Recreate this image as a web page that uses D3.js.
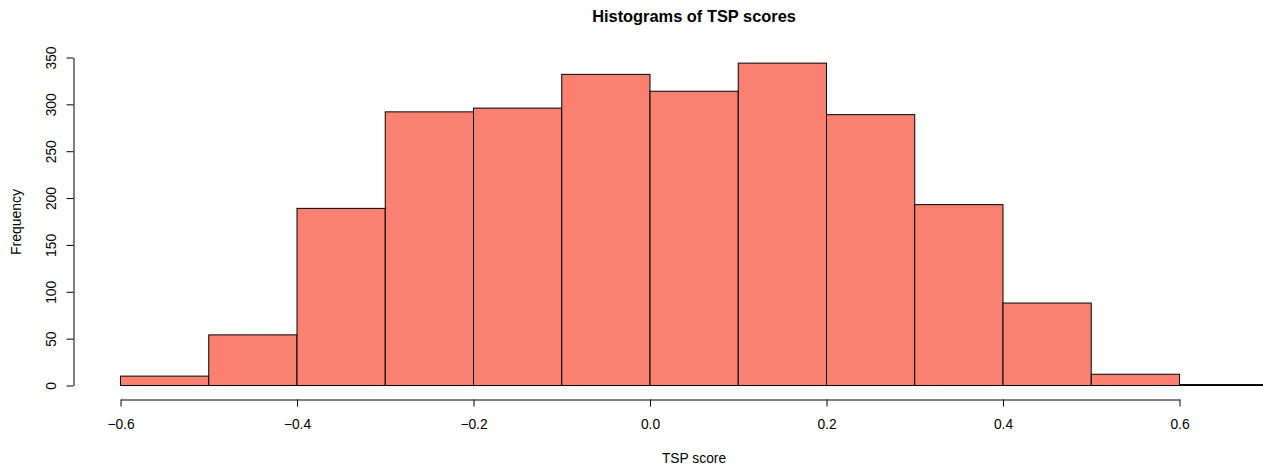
<!DOCTYPE html>
<html><head><meta charset="utf-8">
<script src="https://cdn.jsdelivr.net/npm/d3@7"></script>
<style>body{margin:0;background:#fff}svg{display:block;font-family:"Liberation Sans",Arial,sans-serif}</style>
</head><body><svg id="c" width="1263" height="466"></svg>
<script>
const binStarts = [-0.6,-0.5,-0.4,-0.3,-0.2,-0.1,0.0,0.1,0.2,0.3,0.4,0.5,0.6];
const counts = [10,54,189,292,296,332,314,344,289,193,88,12,1];
const binWidth = 0.1;
const xTicks = [-0.6,-0.4,-0.2,0.0,0.2,0.4,0.6];
const xTickLabels = ["\u22120.6","\u22120.4","\u22120.2","0.0","0.2","0.4","0.6"];
const yTicks = [0,50,100,150,200,250,300,350];

const svg = d3.select("#c");
const x = d3.scaleLinear().domain([-0.6,0.6]).range([120,1179]);
const y = d3.scaleLinear().domain([0,350]).range([385,57]);

svg.selectAll("rect.bar").data(binStarts).enter().append("rect")
  .attr("class","bar")
  .attr("x",d=>x(d)+0.5)
  .attr("width",d=>x(d+binWidth)-x(d))
  .attr("y",(d,i)=>y(counts[i])+0.5)
  .attr("height",(d,i)=>y(0)-y(counts[i]))
  .attr("fill","#FA8072").attr("stroke","#000").attr("stroke-width",1);

const xa = svg.append("g").attr("transform","translate(0.5,399.5)")
  .call(d3.axisBottom(x).tickValues(xTicks).tickFormat((d,i)=>xTickLabels[i]).tickSize(7).tickSizeOuter(0).tickPadding(13));
const ya = svg.append("g").attr("transform","translate(73.5,0.5)")
  .call(d3.axisLeft(y).tickValues(yTicks).tickSize(7).tickSizeOuter(0));
[xa,ya].forEach(a=>{a.attr("font-family",null);a.selectAll("path,line").attr("stroke","#000");a.selectAll("text").attr("fill","#000").style("font-size","13.8px");});
ya.selectAll(".tick text")
  .each(function(d){const t=d3.select(this);t.attr("x",null).attr("dy",null)
    .attr("text-anchor","middle").attr("transform","translate(-22,0) rotate(-90)").attr("dy","0.35em");});

svg.append("text").attr("x",694).attr("y",22).attr("text-anchor","middle")
  .style("font-size","16.4px").style("font-weight","bold").text("Histograms of TSP scores");
svg.append("text").attr("x",694).attr("y",463).attr("text-anchor","middle")
  .style("font-size","13.8px").text("TSP score");
svg.append("text").attr("transform","translate(21,222) rotate(-90)").attr("text-anchor","middle")
  .style("font-size","14px").text("Frequency");
</script></body></html>
